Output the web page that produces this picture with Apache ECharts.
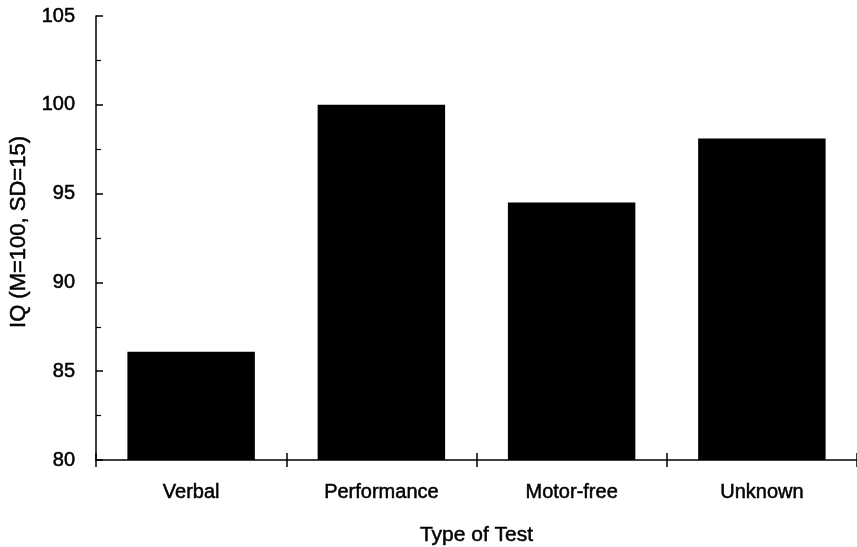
<!DOCTYPE html>
<html>
<head>
<meta charset="utf-8">
<script src="https://cdn.jsdelivr.net/npm/echarts@6/dist/echarts.min.js"></script>
<style>
html,body{margin:0;padding:0;background:#fff;}
#c{width:857px;height:547px;}
</style>
</head>
<body>
<div id="c"></div>
<script>
const categories = ["Verbal", "Performance", "Motor-free", "Unknown"];
const iqValues = [86.1, 100.0, 94.5, 98.1];
const yTicks = [80, 85, 90, 95, 100, 105];

const font = "'Liberation Sans', Arial, Helvetica, sans-serif";
const heavy = {textBorderColor: '#000', textBorderWidth: 0.5};
const chart = echarts.init(document.getElementById('c'), null, {renderer: 'canvas'});
chart.setOption({
  animation: false,
  backgroundColor: '#fff',
  grid: {left: 96, right: 0, top: 16, bottom: 87, containLabel: false, outerBoundsMode: 'none'},
  xAxis: [{
    type: 'category',
    data: categories,
    position: 'bottom',
    name: 'Type of Test',
    nameLocation: 'middle',
    nameGap: 65,
    nameTextStyle: Object.assign({fontFamily: font, fontSize: 21, color: '#000'}, heavy),
    axisLine: {onZero: false, lineStyle: {color: '#000', width: 1.5}},
    axisTick: {show: true, inside: false, length: 7, lineStyle: {color: '#000', width: 1.5}},
    axisLabel: Object.assign({fontFamily: font, fontSize: 20, color: '#000', margin: 22}, heavy),
    splitLine: {show: false}
  }, {
    type: 'category',
    gridIndex: 0,
    data: categories,
    position: 'bottom',
    offset: 0,
    axisLine: {show: true, onZero: false, lineStyle: {color: 'rgba(0,0,0,0)', width: 0}},
    axisTick: {show: true, inside: false, length: -7, lineStyle: {color: '#000', width: 1.5}},
    axisLabel: {show: false},
    splitLine: {show: false}
  }],
  yAxis: {
    type: 'value',
    min: yTicks[0],
    max: yTicks[yTicks.length - 1],
    interval: 5,
    name: 'IQ (M=100, SD=15)',
    nameLocation: 'middle',
    nameGap: 65,
    nameRotate: 90,
    nameTextStyle: Object.assign({fontFamily: font, fontSize: 22, color: '#000', padding: [0, 0, 0, 12]}, heavy),
    axisLine: {show: true, lineStyle: {color: '#000', width: 1.5}},
    axisTick: {show: true, inside: true, length: 7, lineStyle: {color: '#000', width: 1.5}},
    minorTick: {show: true, splitNumber: 2, length: 5, lineStyle: {color: '#000', width: 1.2}},
    axisLabel: Object.assign({fontFamily: font, fontSize: 20, color: '#000', margin: 21}, heavy),
    splitLine: {show: false}
  },
  series: [{
    type: 'bar',
    data: iqValues,
    barWidth: '67%',
    itemStyle: {color: '#000'}
  }]
});
</script>
</body>
</html>
